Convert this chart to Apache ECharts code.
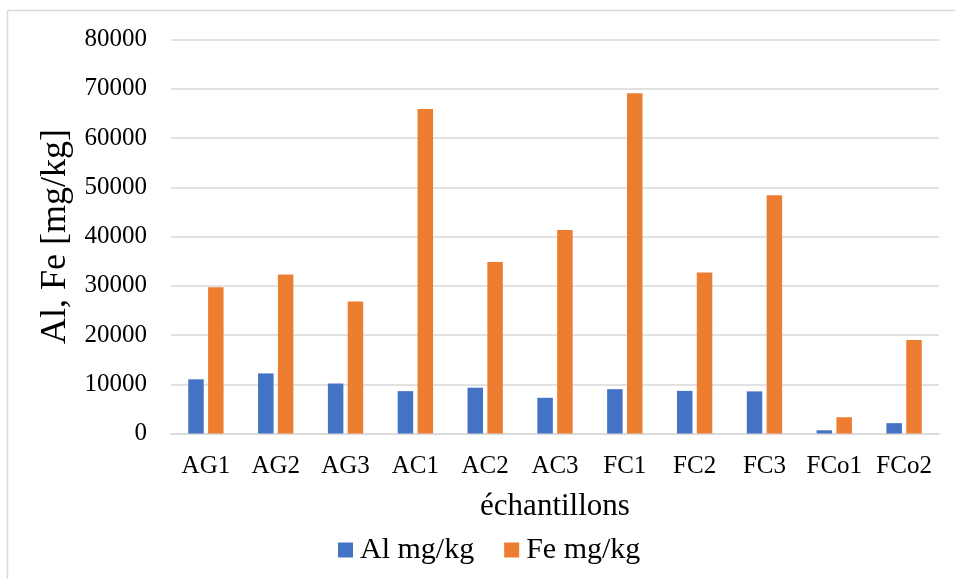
<!DOCTYPE html>
<html>
<head>
<meta charset="utf-8">
<script src="https://cdn.jsdelivr.net/npm/echarts@6/dist/echarts.min.js"></script>
<style>
html,body{margin:0;padding:0;background:#fff;}
#chart{width:955px;height:579px;}
</style>
</head>
<body>
<div id="chart"></div>
<script>
const categories = ['AG1','AG2','AG3','AC1','AC2','AC3','FC1','FC2','FC3','FCo1','FCo2'];
const alValues = [11000, 12200, 10150, 8600, 9300, 7250, 9000, 8650, 8550, 650, 2100];
const feValues = [29700, 32300, 26800, 65900, 34800, 41300, 69100, 32700, 48400, 3300, 19000];
const yTicks = [0, 10000, 20000, 30000, 40000, 50000, 60000, 70000, 80000];
const seriesNames = ['Al mg/kg', 'Fe mg/kg'];
const xTitle = 'échantillons';
const yTitle = 'Al, Fe [mg/kg]';

const font = '"Liberation Serif", "Times New Roman", serif';
const chart = echarts.init(document.getElementById('chart'), null, {renderer: 'canvas'});
chart.setOption({
  animation: false,
  backgroundColor: '#fff',
  color: ['#4472C4', '#ED7D31'],
  graphic: [{
    type: 'rect',
    shape: {x: 7.5, y: 10.5, width: 1200, height: 1200},
    style: {fill: 'none', stroke: '#d9d9d9', lineWidth: 1.5},
    silent: true
  }],
  grid: {left: 171, right: 16, top: 39.5, height: 394, containLabel: false},
  legend: {
    data: seriesNames,
    left: 333,
    top: 530,
    itemWidth: 15,
    itemHeight: 15,
    itemGap: 30,
    icon: 'rect',
    textStyle: {fontFamily: font, fontSize: 30, color: '#000', padding: [0, 0, 0, 2]}
  },
  xAxis: {
    type: 'category',
    data: categories,
    name: xTitle,
    nameLocation: 'middle',
    nameGap: 58,
    nameTextStyle: {fontFamily: font, fontSize: 31, color: '#000'},
    axisLine: {lineStyle: {color: '#d9d9d9', width: 1.5}},
    axisTick: {show: false},
    axisLabel: {fontFamily: font, fontSize: 25, color: '#000', margin: 20, interval: 0}
  },
  yAxis: {
    type: 'value',
    min: yTicks[0],
    max: yTicks[yTicks.length - 1],
    interval: yTicks[1] - yTicks[0],
    name: yTitle,
    nameLocation: 'middle',
    nameGap: 96,
    nameTextStyle: {fontFamily: font, fontSize: 36, color: '#000'},
    axisLine: {show: false},
    axisTick: {show: false},
    splitLine: {lineStyle: {color: '#d9d9d9', width: 1.5}},
    axisLabel: {fontFamily: font, fontSize: 25, color: '#000', margin: 24, formatter: v => String(v)}
  },
  series: [
    {name: seriesNames[0], type: 'bar', data: alValues, barWidth: 15.5, barGap: '28%'},
    {name: seriesNames[1], type: 'bar', data: feValues, barWidth: 15.5, barGap: '28%'}
  ]
});
</script>
</body>
</html>
